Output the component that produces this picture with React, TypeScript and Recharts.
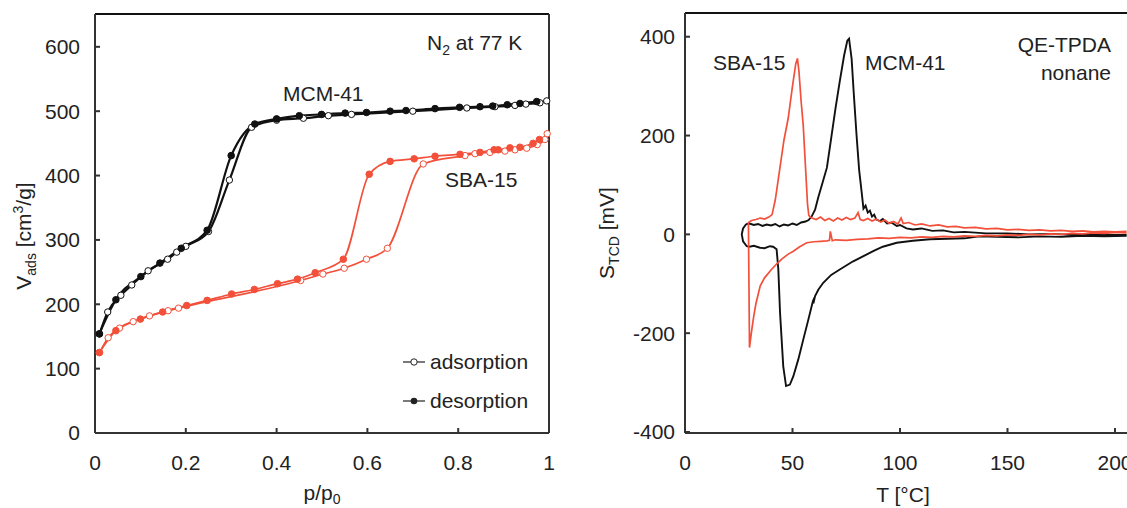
import { LineChart, Line, XAxis, YAxis, ReferenceLine } from 'recharts';

const FONT = '"Liberation Sans", Arial, Helvetica, sans-serif';
const RED = '#f2503a';
const BLACK = '#111111';
const AXIS = '#333333';
const TXT = '#222222';

// N2 isotherms at 77 K, [p/p0, V_ads]
const mcmAds: [number, number][] = [
  [0.01, 154], [0.028, 188], [0.057, 214], [0.081, 230], [0.117, 252], [0.16, 270], [0.18, 281],
  [0.2, 290], [0.25, 313], [0.296, 393], [0.345, 475], [0.4, 486], [0.459, 489], [0.514, 493],
  [0.565, 495], [0.7, 500], [0.819, 505], [0.881, 507], [0.925, 509], [0.949, 511], [0.98, 513],
  [0.995, 516],
];
const mcmDes: [number, number][] = [
  [0.0095, 154], [0.046, 207], [0.101, 243], [0.143, 264], [0.19, 287], [0.247, 315], [0.3, 431],
  [0.352, 480], [0.4, 488], [0.45, 493], [0.499, 495], [0.551, 497], [0.598, 498], [0.65, 500],
  [0.685, 501], [0.749, 504], [0.803, 506], [0.848, 507], [0.876, 508], [0.908, 510], [0.936, 512],
  [0.973, 515],
];
const sbaAds: [number, number][] = [
  [0.01, 125], [0.029, 148], [0.054, 163], [0.084, 173], [0.12, 182], [0.161, 190], [0.184, 194],
  [0.453, 237], [0.502, 247], [0.549, 256], [0.598, 270], [0.644, 287], [0.723, 418], [0.815, 431],
  [0.837, 434], [0.87, 436], [0.903, 438], [0.925, 440], [0.951, 442.5], [0.974, 448], [0.991, 456],
  [0.996, 465],
];
const sbaDes: [number, number][] = [
  [0.0095, 125], [0.046, 159], [0.1, 177], [0.149, 188], [0.202, 198], [0.247, 206], [0.301, 216],
  [0.351, 223], [0.402, 232], [0.446, 239], [0.485, 249], [0.547, 270], [0.604, 402], [0.65, 422],
  [0.703, 426], [0.749, 430], [0.804, 433], [0.848, 436], [0.879, 440], [0.888, 440], [0.914, 443],
  [0.936, 444], [0.965, 450], [0.979, 456],
];

// QE-TPDA nonane traces, [T degC, S_TCD mV], one closed loop each
const sbaLoop: [number, number][] = [
  [29.5, 24], [31, 28], [33, 30], [35, 33], [37, 31], [39, 35], [40.5, 40], [42, 70], [44, 130],
  [46, 190], [48, 235], [50, 300], [51.5, 345], [52.3, 356], [53, 330], [54, 270], [55, 220],
  [56, 140], [57, 60], [57.6, 38], [59, 33], [61, 30], [63, 35], [65, 28], [67, 32], [69, 27],
  [71, 33], [73, 29], [75, 34], [77, 30], [79, 33], [80.5, 44], [81.5, 30], [83, 28], [85, 32],
  [87, 27], [89, 31], [91, 25], [93, 29], [95, 22], [97, 26], [99, 21], [100.5, 33], [101.5, 22],
  [104, 24], [107, 19], [110, 21], [114, 17], [118, 19], [122, 15], [126, 16], [130, 13], [135, 14],
  [140, 11], [145, 12], [150, 9], [155, 10], [160, 8], [165, 9], [170, 7], [175, 8], [180, 6],
  [185, 7], [190, 5], [195, 6], [200, 5], [205, 6],
  [205, 3], [200, 4], [195, 2], [190, 3], [185, 1], [180, 2], [175, 0], [170, 1], [165, -1],
  [160, 0], [155, -2], [150, -1], [145, -3], [140, -2], [135, -4], [130, -3], [125, -5], [120, -4],
  [115, -6], [110, -5], [105, -7], [100, -6], [95, -8], [90, -7], [85, -9], [80, -10], [75, -12],
  [70, -11], [68.5, -13], [67.6, 6], [67.2, -12], [66, -13], [63, -14], [60, -15], [56.6, -17],
  [53, -26], [50.4, -34], [48, -40], [45, -50], [42.6, -60], [40, -72], [37, -88], [35, -104],
  [33, -140], [32, -165], [31, -195], [30, -229], [29.5, 24],
];
const mcmLoop: [number, number][] = [
  [28.5, 21], [30, 22], [32, 19], [34, 21], [36, 17], [38, 20], [40, 18], [42, 21], [44, 16],
  [46, 20], [48, 18], [50, 22], [52, 19], [54, 24], [56, 26], [57.5, 29], [59, 37], [60.5, 50],
  [62, 75], [64, 105], [66, 135], [68, 195], [70, 255], [72, 310], [74, 362], [75.5, 392],
  [76.3, 396], [77.5, 355], [78.5, 285], [79.8, 200], [81, 130], [82.2, 84], [83, 52], [84, 58],
  [85, 44], [86, 48], [87, 36], [88, 40], [89, 30], [90.7, 27], [92, 31], [94, 22], [96, 24],
  [98.5, 17], [100, 19], [103, 12], [106, 10], [110, 12], [115, 7], [120, 8], [125, 4], [130, 5],
  [140, 2], [150, 2], [160, 0], [170, 1], [180, -1], [190, 0], [200, -1], [205, -1],
  [205, -3], [195, -4], [185, -3], [175, -5], [165, -4], [155, -6], [145, -5], [137, -4],
  [130, -8], [122, -9], [114, -10], [106, -13], [98.5, -17], [92, -25], [88, -33], [83, -44],
  [78, -55], [72, -71], [68, -82], [64.3, -98], [62, -112], [60.5, -125], [59.7, -140],
  [60.2, -128], [59.5, -135], [57.4, -172], [55, -213], [52.7, -253], [50.4, -287], [48.8, -304],
  [47, -307], [45.7, -267], [44.2, -158], [43.4, -70], [42.6, -30], [41, -25], [39.5, -24],
  [37, -28], [34.9, -27], [32, -23], [30, -25], [28.7, -24], [27, -14], [26.4, 0], [27, 12],
  [28.5, 21],
];

const pTicks = [0, 0.2, 0.4, 0.6, 0.8, 1];
const vTicks = [0, 100, 200, 300, 400, 500, 600];
const tTicks = [0, 50, 100, 150, 200];
const sTicks = [-400, -200, 0, 200, 400];

const iso = (pts: [number, number][]) => pts.map(([p, v]) => ({ p, v }));
const tpd = (pts: [number, number][]) => pts.map(([t, s]) => ({ t, s }));

const tick = { fontSize: 21, fill: TXT, fontFamily: FONT };

function IsothermChart() {
  const open = (c: string) => ({ r: 3.2, fill: '#fff', stroke: c, strokeWidth: 1 });
  const full = (c: string) => ({ r: 3.3, fill: c, stroke: c, strokeWidth: 1 });
  return (
    <LineChart width={560} height={508} margin={{ top: 14, right: 11, bottom: 0, left: 35 }}>
      <XAxis
        type="number" dataKey="p" domain={[0, 1]} ticks={pTicks} height={75}
        tick={tick} tickSize={-5} tickMargin={27} stroke={AXIS} strokeWidth={2}
        tickFormatter={(v: number) => String(v)}
      />
      <YAxis
        type="number" dataKey="v" domain={[0, 651]} ticks={vTicks} width={60}
        tick={tick} tickSize={-5} tickMargin={20} stroke={AXIS} strokeWidth={2}
      />
      <ReferenceLine y={651} stroke={BLACK} strokeWidth={2} />
      <ReferenceLine x={1} stroke={AXIS} strokeWidth={2} />
      <Line data={iso(sbaAds)} dataKey="v" type="monotone" stroke={RED} strokeWidth={1.7}
        dot={open(RED)} activeDot={false} isAnimationActive={false} />
      <Line data={iso(sbaDes)} dataKey="v" type="monotone" stroke={RED} strokeWidth={1.7}
        dot={full(RED)} activeDot={false} isAnimationActive={false} />
      <Line data={iso(mcmAds)} dataKey="v" type="monotone" stroke={BLACK} strokeWidth={2.2}
        dot={open(BLACK)} activeDot={false} isAnimationActive={false} />
      <Line data={iso(mcmDes)} dataKey="v" type="monotone" stroke={BLACK} strokeWidth={2.2}
        dot={full(BLACK)} activeDot={false} isAnimationActive={false} />
    </LineChart>
  );
}

function TpdChart() {
  return (
    <LineChart width={590} height={508} margin={{ top: 13, right: 13.5, bottom: 0, left: 60 }}>
      <XAxis
        type="number" dataKey="t" domain={[0, 210]} ticks={tTicks} height={75}
        tick={tick} tickSize={-5} tickMargin={27} stroke={AXIS} strokeWidth={2}
      />
      <YAxis
        type="number" dataKey="s" domain={[-402, 448]} ticks={sTicks} width={65}
        tick={tick} tickSize={-5} tickMargin={15} stroke={AXIS} strokeWidth={2}
      />
      <ReferenceLine y={448} stroke={BLACK} strokeWidth={2} />
      <Line data={tpd(mcmLoop)} dataKey="s" type="linear" stroke={BLACK} strokeWidth={1.9}
        dot={false} activeDot={false} isAnimationActive={false} />
      <Line data={tpd(sbaLoop)} dataKey="s" type="linear" stroke={RED} strokeWidth={1.7}
        dot={false} activeDot={false} isAnimationActive={false} />
    </LineChart>
  );
}

export default function App() {
  return (
    <div style={{ position: 'absolute', left: 0, top: 0, width: 1127, height: 508, overflow: 'hidden', background: '#fff' }}>
      <div style={{ position: 'absolute', left: 0, top: 0 }}>
        <IsothermChart />
      </div>
      <div style={{ position: 'absolute', left: 560, top: 0 }}>
        <TpdChart />
      </div>
      <svg width={1127} height={508} style={{ position: 'absolute', left: 0, top: 0, pointerEvents: 'none' }}
        fontFamily={FONT} fill={TXT} fontSize={21}>
        {/* axis titles */}
        <text transform="rotate(-90 31 236)" x={31} y={236} textAnchor="middle">
          V<tspan fontSize={14} dy={5}>ads</tspan><tspan dy={-5}> [cm</tspan>
          <tspan fontSize={14} dy={-8}>3</tspan><tspan dy={8}>/g]</tspan>
        </text>
        <text x={322} y={500} textAnchor="middle">
          p/p<tspan fontSize={14} dy={4}>0</tspan>
        </text>
        <text transform="rotate(-90 614 233)" x={614} y={233} textAnchor="middle">
          S<tspan fontSize={14} dy={5}>TCD</tspan><tspan dy={-5}> [mV]</tspan>
        </text>
        <text x={903} y={502} textAnchor="middle">T [°C]</text>

        {/* left panel annotations */}
        <text x={427} y={50}>N<tspan fontSize={14} dy={5}>2</tspan><tspan dy={-5}> at 77 K</tspan></text>
        <text x={283} y={101}>MCM-41</text>
        <text x={445} y={187}>SBA-15</text>
        <line x1={403} x2={425} y1={362} y2={362} stroke={TXT} strokeWidth={1.2} />
        <circle cx={414} cy={362} r={3.2} fill="#fff" stroke={TXT} strokeWidth={1} />
        <text x={430} y={369}>adsorption</text>
        <line x1={403} x2={425} y1={401} y2={401} stroke={TXT} strokeWidth={1.2} />
        <circle cx={414} cy={401} r={3.3} fill={TXT} />
        <text x={430} y={408}>desorption</text>

        {/* right panel annotations */}
        <text x={713} y={70}>SBA-15</text>
        <text x={865} y={70}>MCM-41</text>
        <text x={1111} y={52} textAnchor="end">QE-TPDA</text>
        <text x={1111} y={80} textAnchor="end">nonane</text>
      </svg>
    </div>
  );
}
